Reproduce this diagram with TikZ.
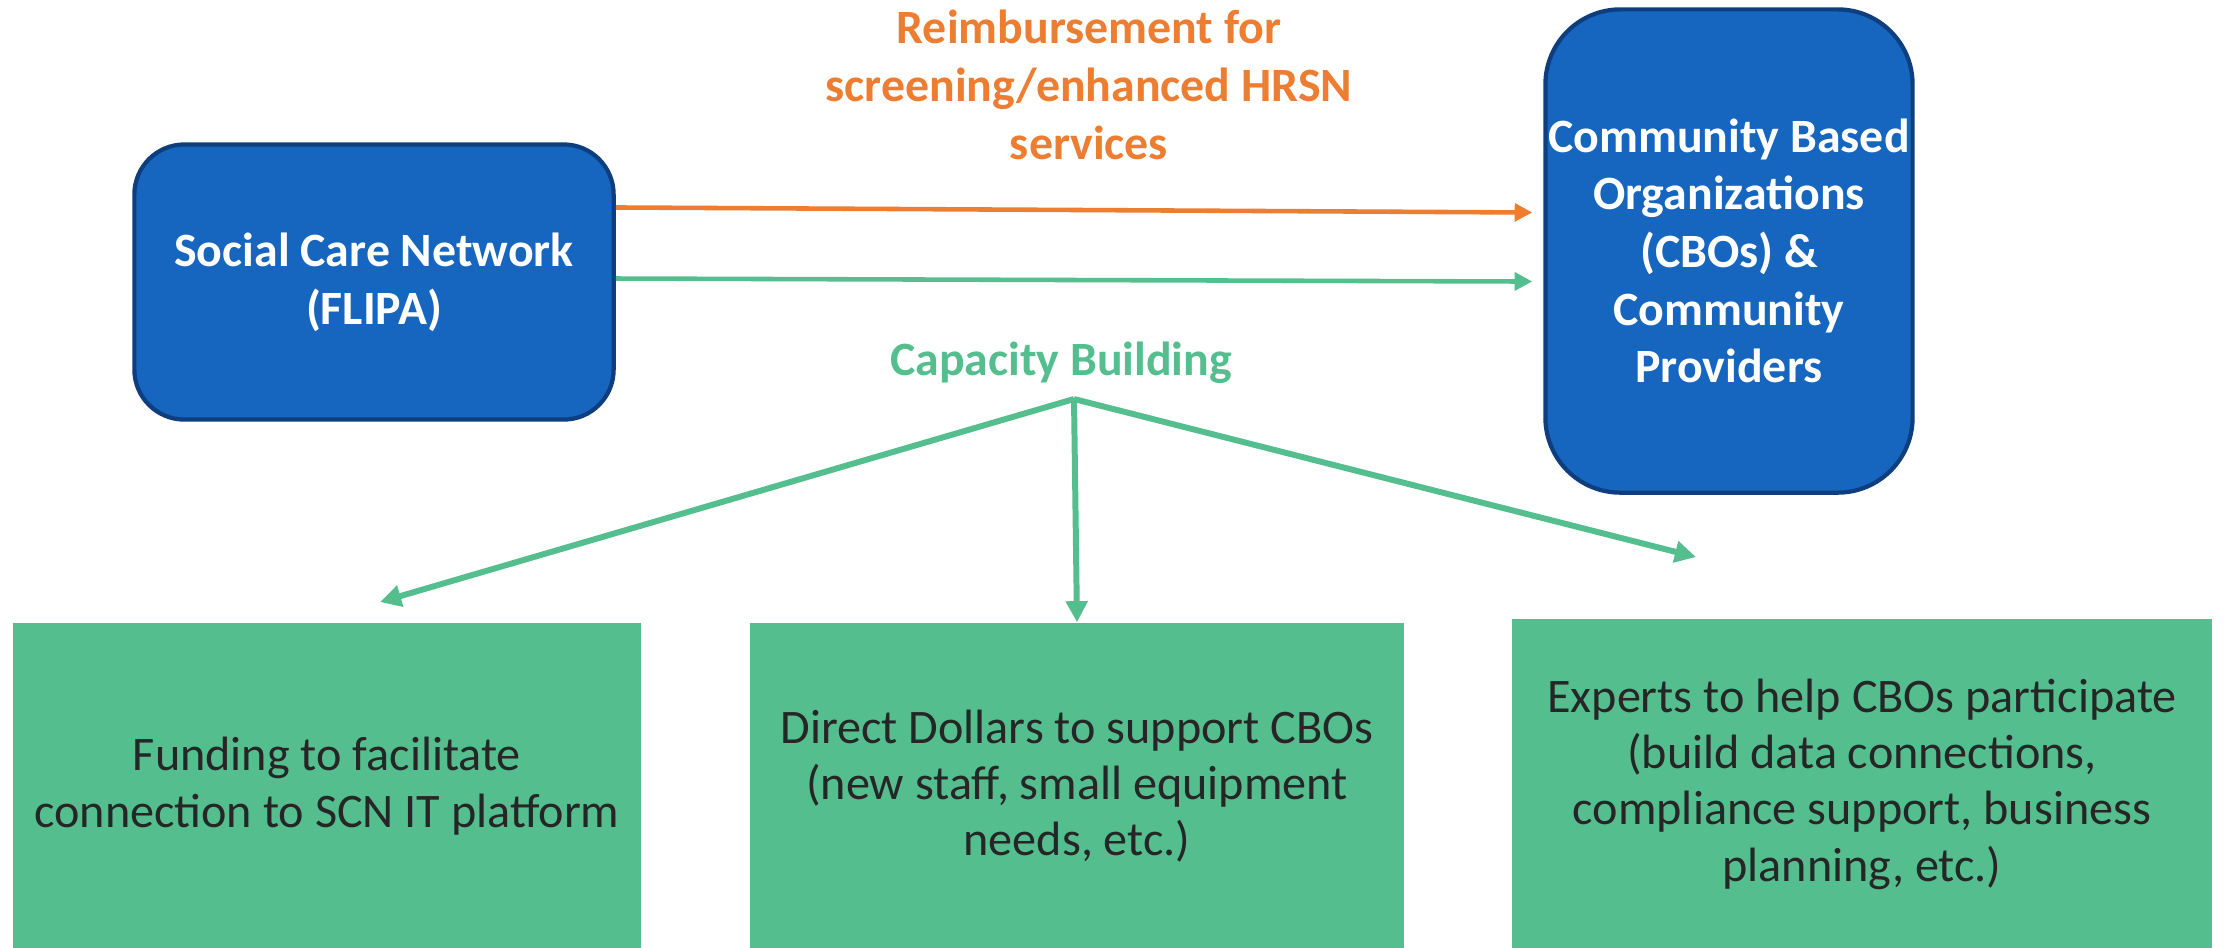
\documentclass[tikz,border=0pt]{standalone}
\usepackage{fontspec}
\setmainfont{Carlito}
\usepackage{xcolor}
\usepackage{tikz}
\usetikzlibrary{arrows.meta,positioning}
\definecolor{scnblue}{RGB}{22,101,190}
\definecolor{edgeblue}{RGB}{14,62,125}
\definecolor{cbgreen}{RGB}{84,190,143}
\definecolor{payorange}{RGB}{237,125,49}

\begin{document}
\begin{tikzpicture}[x=0.01cm, y=-0.01cm,
    font=\fontsize{13.7}{16}\selectfont,
    entity/.style={rectangle, rounded corners=0.5cm, align=center, text=white, font=\fontsize{13.6}{16.4}\selectfont\bfseries, fill=scnblue, draw=edgeblue, line width=1.2pt, inner sep=0pt},
    support/.style={rectangle, align=center, text=black!85, fill=cbgreen, inner sep=0pt},
    payarrow/.style={line width=1.3pt, draw=payorange, -{Triangle[length=5pt,width=5pt]}},
    fundarrow/.style={line width=1.3pt, draw=cbgreen, -{Triangle[length=5pt,width=5pt]}},
    fanarrow/.style={line width=1.7pt, draw=cbgreen, -{Triangle[length=6pt,width=6pt]}}]

    \useasboundingbox (0,0) rectangle (2224,947);

    % the two partners
    \node [entity, minimum width=4.79cm, minimum height=2.75cm] (scn) at (374,282) {Social Care Network\\(FLIPA)};
    \node [entity, rounded corners=0.75cm, minimum width=3.67cm, minimum height=4.83cm] (cbo) at (1729,251) {Community Based\\Organizations\\(CBOs) \&\\Community\\Providers};

    % money and support flows
    \draw [payarrow] ([yshift=0.745cm]scn.east) ++(0.09,0) -- ([yshift=0.385cm,xshift=-0.11cm]cbo.west);
    \draw [fundarrow] ([yshift=0.035cm]scn.east) ++(0.09,0) -- ([yshift=-0.305cm,xshift=-0.11cm]cbo.west);

    \node [text=payorange, font=\fontsize{13.6}{16.4}\selectfont\bfseries, align=center] (pay) at (1089,85) {Reimbursement for\\screening/enhanced HRSN\\services};
    \node [text=cbgreen, font=\fontsize{13.6}{16.4}\selectfont\bfseries] (capacity) at (1061,363) {Capacity Building};

    % the three kinds of capacity building
    \node [support, minimum width=6.27cm, minimum height=3.26cm] (funding) at (327,786) {Funding to facilitate\\connection to SCN IT platform};
    \node [support, minimum width=6.54cm, minimum height=3.26cm] (direct) at (1077,786) {Direct Dollars to support CBOs\\(new staff, small equipment\\needs, etc.)};
    \node [support, minimum width=7.00cm, minimum height=3.29cm] (experts) at (1862,784) {Experts to help CBOs participate\\(build data connections,\\compliance support, business\\planning, etc.)};

    % fan out from the label
    \coordinate (fan) at (1074,399);
    \coordinate (fundtip) at (380,602);
    \coordinate (experttip) at (1696,557);
    \draw [fanarrow] (fan) -- (fundtip);
    \draw [fanarrow] (fan) -- (direct.north);
    \draw [fanarrow] (fan) -- (experttip);
\end{tikzpicture}
\end{document}
